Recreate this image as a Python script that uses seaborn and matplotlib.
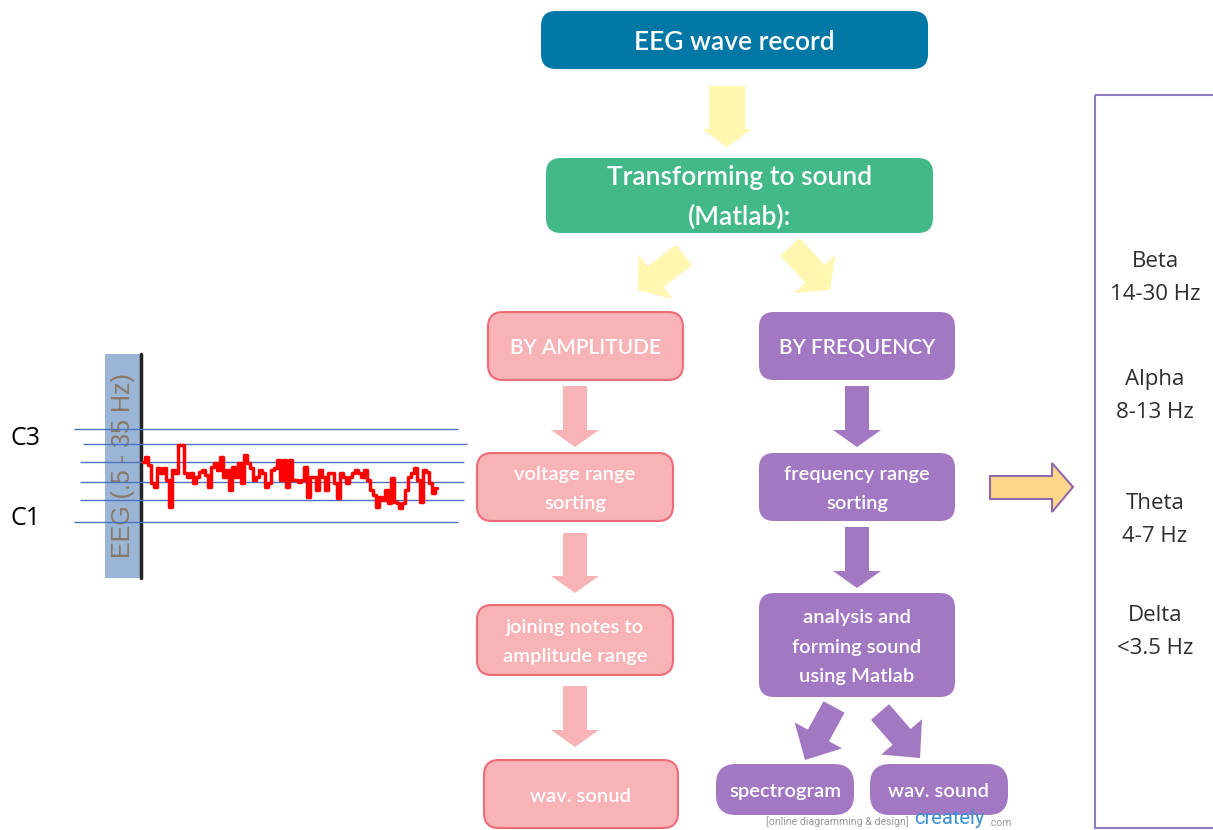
import numpy as np
import pandas as pd
import matplotlib.pyplot as plt
import seaborn as sns
from matplotlib.patches import FancyBboxPatch, Polygon, Rectangle

# EEG trace (amplitude, arbitrary units, one sample per step)
eeg_amplitude = [20, 25, 17, -1, -5, 14, 9, 14, 2, -25,
                 12, 9, 37, 37, 9, 5, 9, -1, 5, 10,
                 12, 7, -5, 15, 19, 12, 25, 5, 12, -8,
                 15, 5, 19, -1, 27, 19, 14, 2, 5, 12,
                 9, -5, -1, 12, 14, 22, 2, 22, -5, 22,
                 2, 2, 0, 2, 15, -15, 5, 5, -8, 12,
                 5, -8, 9, 9, -1, -16, 9, 5, -1, 5,
                 9, 12, 9, 5, 12, 2, -8, -13, -25, -15,
                 -18, -8, -21, 4, -20, -21, -26, -21, -8, 5,
                 9, 14, 2, -20, 12, 10, -1, -11, -6]
staff_levels = [53, 38, 20, 0, -18, -40]
staff_starts = [-23, -20, -21, -21, -21, -23]
staff_ends = [105, 108, 107, 107, 107, 105]

amplitude_steps = ["BY AMPLITUDE", "voltage range\nsorting",
                   "joining notes to\namplitude range", "wav. sonud"]
frequency_steps = ["BY FREQUENCY", "frequency range\nsorting",
                   "analysis and\nforming sound\nusing Matlab"]
frequency_outputs = ["spectrogram", "wav. sound"]
bands = ["Beta", "Alpha", "Theta", "Delta"]
band_ranges = ["14-30 Hz", "8-13 Hz", "4-7 Hz", "<3.5 Hz"]

W, H = 1213, 830
BLUE = "#0077a4"
GREEN = "#43b98a"
PINK = "#f7b3b6"
PINK_EDGE = "#ee6b78"
PURPLE = "#a378c3"
YELLOW = "#fff6b0"

sns.set_style("white")
plt.rcParams["font.family"] = ["Lato", "DejaVu Sans"]

fig = plt.figure(figsize=(W / 100, H / 100), dpi=100)
ax = fig.add_axes([0, 0, 1, 1])
ax.set_xlim(0, W)
ax.set_ylim(H, 0)
ax.axis("off")


def box(x0, y0, x1, y1, text, fc, ec="none", lw=0, size=15, r=15, ls=1.9):
    ax.add_patch(FancyBboxPatch((x0, y0), x1 - x0, y1 - y0,
                                boxstyle=f"round,pad=0,rounding_size={r}",
                                fc=fc, ec=ec, lw=lw))
    ax.text((x0 + x1) / 2, (y0 + y1) / 2 + 2, text, ha="center", va="center",
            color="white", fontsize=size, linespacing=ls, fontweight="semibold")


def block_arrow(start, tip, shaft_w, head_w, head_len, fc, ec="none", lw=0):
    s = np.array(start, float)
    t = np.array(tip, float)
    u = (t - s) / np.hypot(*(t - s))
    n = np.array([-u[1], u[0]])
    b = t - u * head_len
    pts = [s + n * shaft_w / 2, b + n * shaft_w / 2, b + n * head_w / 2, t,
           b - n * head_w / 2, b - n * shaft_w / 2, s - n * shaft_w / 2]
    ax.add_patch(Polygon(pts, closed=True, fc=fc, ec=ec, lw=lw))


# top of the flow
box(541, 11, 928, 69, "EEG wave record", BLUE, size=19)
block_arrow((727, 86), (727, 147), 36, 49, 18, YELLOW)
box(546, 158, 933, 233, "Transforming to sound\n(Matlab):", GREEN, size=19, ls=1.75)
block_arrow((684, 255), (638, 290), 26, 56, 22, YELLOW)
block_arrow((790, 247), (830, 290), 26, 56, 22, YELLOW)

# amplitude branch
pink_boxes = [(488, 312, 683, 380), (477, 453, 673, 521),
              (477, 605, 673, 675), (484, 760, 678, 828)]
for (x0, y0, x1, y1), label in zip(pink_boxes, amplitude_steps):
    box(x0, y0, x1, y1, label, PINK, PINK_EDGE, 1.5, size=15 if label.isupper() else 14.5)
for y0, y1 in [(386, 447), (533, 593), (686, 747)]:
    block_arrow((575, y0), (575, y1), 24, 48, 17, PINK)

# frequency branch
purple_boxes = [(759, 312, 955, 380), (759, 453, 955, 521), (759, 593, 955, 697)]
for (x0, y0, x1, y1), label in zip(purple_boxes, frequency_steps):
    box(x0, y0, x1, y1, label, PURPLE, size=15 if label.isupper() else 14.5)
for y0, y1 in [(386, 447), (527, 588)]:
    block_arrow((857, y0), (857, y1), 24, 48, 17, PURPLE)
block_arrow((834, 707), (805, 760), 24, 54, 28, PURPLE)
block_arrow((880, 712), (920, 758), 24, 54, 28, PURPLE)
for (x0, x1), label in zip([(716, 854), (870, 1008)], frequency_outputs):
    box(x0, 764, x1, 815, label, PURPLE, size=14.5, r=20)

# watermark
ax.text(766, 822, "[online diagramming & design]", fontsize=7.7, color="#9a9a9a",
        ha="left", va="center", family=["Roboto", "DejaVu Sans"])
ax.text(914, 818, "creately", fontsize=14.5, color="#3a8fd3", ha="left",
        va="center", family=["Roboto", "DejaVu Sans"])
ax.text(988, 823, ".com", fontsize=7.5, color="#9a9a9a", ha="left", va="center",
        family=["Roboto", "DejaVu Sans"])

# orange arrow and band panel
ax.add_patch(Polygon([(990, 476), (1052, 476), (1052, 463), (1073, 487),
                      (1052, 512), (1052, 499), (990, 499)], closed=True,
                     fc="#fdd68a", ec="#8e6ba8", lw=1.5))
ax.add_patch(Rectangle((1095, 95), 160, 733, fc="none", ec="#8e7cc3", lw=1.5))
for yb, band, rng in zip([261, 379, 503, 615], bands, band_ranges):
    for dy, label in [(0, band), (33, rng)]:
        ax.text(1155, yb + dy, label, ha="center", va="center", fontsize=16,
                color="#2e2e2e", family=["Open Sans", "DejaVu Sans"])

# EEG strip on the left
ax.add_patch(Rectangle((105, 354), 35, 224, fc="#9bb5d6", ec="none"))
ax.plot([141, 141], [354, 578], color="#222222", lw=2.5)
ax.text(123, 466, "EEG (.5 - 35 Hz)", rotation=90, ha="center", va="center",
        fontsize=18, color="#8a7866", family=["Liberation Sans", "DejaVu Sans"])
for yl, label in [(438, "C3"), (518, "C1")]:
    ax.text(26, yl, label, ha="center", va="center", fontsize=18, color="black",
            family=["Open Sans", "DejaVu Sans"])

ax_eeg = fig.add_axes([70 / W, 1 - 530 / H, 400 / W, 110 / H])
ax_eeg.patch.set_alpha(0)
ax_eeg.set_xlim((70 - 143) / 3, (470 - 143) / 3)
ax_eeg.set_ylim(-48, 62)
ax_eeg.axis("off")
for lvl, xs, xe in zip(staff_levels, staff_starts, staff_ends):
    ax_eeg.hlines(lvl, xs, xe, color="#4a74c0", lw=1)
trace = pd.DataFrame({"sample": np.arange(len(eeg_amplitude)),
                      "amplitude": eeg_amplitude})
sns.lineplot(data=trace, x="sample", y="amplitude", ax=ax_eeg, color="red",
             lw=2.5, drawstyle="steps-mid")
ax_eeg.set_xlabel("")
ax_eeg.set_ylabel("")

fig.savefig("out.png", dpi=100)
